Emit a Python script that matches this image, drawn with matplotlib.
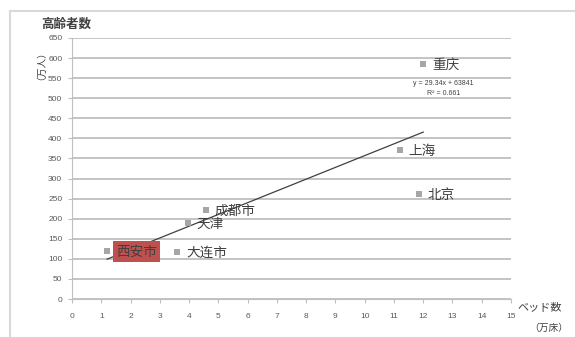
import matplotlib
matplotlib.use("Agg")
import matplotlib.pyplot as plt
import numpy as np
from matplotlib.lines import Line2D

# Data
cities = ["西安市", "大连市", "天津", "成都市", "上海", "北京", "重庆"]
beds = [1.2, 3.6, 3.96, 4.57, 11.2, 11.85, 12.0]          # 万床
elderly = [120, 117, 190, 222, 370, 262, 585]              # 万人
x_ticks = list(range(0, 16))
y_ticks = list(range(0, 651, 50))
equation = "y = 29.34x + 63841"
r2_text = "R² = 0.661"

W, H = 575, 337
fig = plt.figure(figsize=(W / 100, H / 100), dpi=100)
fig.patch.set_facecolor("white")

# outer chart border (cropped)
fig.add_artist(Line2D([10 / W, 1], [1 - 11 / H, 1 - 11 / H], transform=fig.transFigure,
                      color="#d9d9d9", lw=1.5))
fig.add_artist(Line2D([10 / W, 10 / W], [0, 1 - 11 / H], transform=fig.transFigure,
                      color="#d9d9d9", lw=1.5))

left, right, bottom, top = 72 / W, 511 / W, 1 - 299 / H, 1 - 38 / H
ax = fig.add_axes([left, bottom, right - left, top - bottom])
ax.set_xlim(0, 15)
ax.set_ylim(0, 650)
ax.set_xticks(x_ticks)
ax.set_yticks(y_ticks)
ax.tick_params(axis="both", labelsize=6, colors="#bfbfbf", labelcolor="#595959", length=3, width=0.8)
ax.tick_params(axis="x", pad=7)
ax.tick_params(axis="y", pad=4)
for lab in ax.get_xticklabels() + ax.get_yticklabels():
    lab.set_family(["Liberation Sans", "DejaVu Sans"])
ax.grid(axis="y", color="#bfbfbf", lw=1.3)
ax.set_axisbelow(True)
for s in ["top", "right"]:
    ax.spines[s].set_visible(False)
for s in ["left", "bottom"]:
    ax.spines[s].set_color("#bfbfbf")
    ax.spines[s].set_linewidth(0.8)

# trend line
coef = np.polyfit(beds, elderly, 1)
xs = np.array([min(beds), max(beds)])
ax.plot(xs, np.polyval(coef, xs), color="#404040", lw=0.9, zorder=2)

# points
ax.scatter(beds, elderly, marker="s", s=22, color="#a6a6a6", zorder=3, linewidths=0)

cjk = ["Noto Sans CJK SC", "DejaVu Sans"]
for c, xv, yv in zip(cities, beds, elderly):
    kw = {}
    if c == "西安市":
        kw["bbox"] = dict(boxstyle="square,pad=0.25", fc="#c0504d", ec="none")
    ax.annotate(c, (xv, yv), xytext=(9, -1), textcoords="offset pixels",
                ha="left", va="center", fontsize=9.8, color="#404040",
                family=cjk, zorder=4, **kw)

# equation
ax.text(12.7, 537, equation, fontsize=5, color="#404040", ha="center", va="center",
        family=["Liberation Sans", "DejaVu Sans"])
ax.text(12.7, 512, r2_text, fontsize=5, color="#404040", ha="center", va="center",
        family=["Liberation Sans", "DejaVu Sans"])

jp = ["Noto Sans CJK JP", "DejaVu Sans"]
fig.text(41 / W, 1 - 24 / H, "高齢者数", fontsize=9, fontweight="bold", color="#404040",
         ha="left", va="center", family=jp)
fig.text(36 / W, 1 - 61 / H, "（万人）", fontsize=7, color="#404040", rotation=90,
         ha="center", va="center", family=jp)
fig.text(517 / W, 1 - 307 / H, "ベッド数", fontsize=8, color="#404040",
         ha="left", va="center", family=jp)
fig.text(549 / W, 1 - 328 / H, "（万床）", fontsize=7, color="#404040",
         ha="center", va="center", family=jp)

fig.savefig("out.png", dpi=100, facecolor="white")
